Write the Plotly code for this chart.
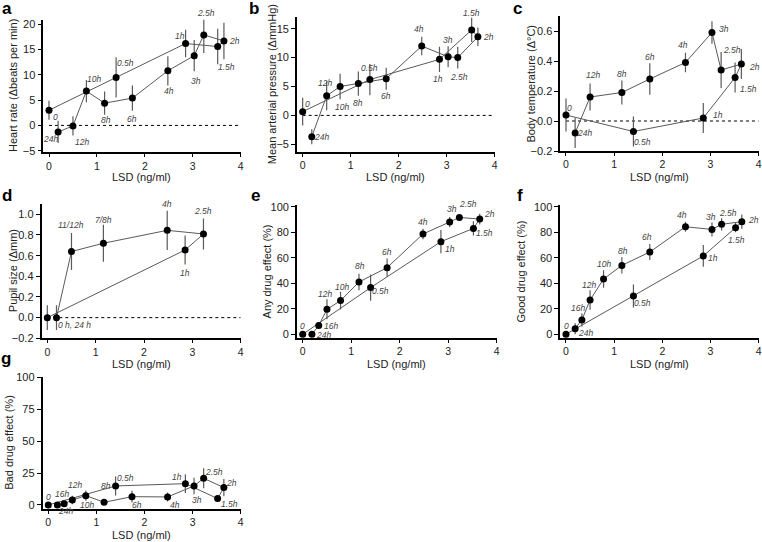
import plotly.graph_objects as go

W, H = 762, 542

# ---------------- DATA ----------------
times13 = ["0", "0.5h", "1h", "1.5h", "2h", "2.5h", "3h", "4h", "6h", "8h", "10h", "12h", "24h"]
lsd13 = [0, 1.40, 2.85, 3.52, 3.65, 3.23, 3.03, 2.48, 1.74, 1.16, 0.78, 0.50, 0.19]

heart_rate = [3.0, 9.5, 16.2, 15.6, 16.7, 17.9, 13.8, 10.8, 5.4, 4.4, 6.8, -0.1, -1.3]
heart_rate_err = [1.9, 4.0, 2.7, 3.5, 3.6, 3.6, 3.1, 2.9, 2.5, 2.3, 2.2, 1.9, 2.2]

map_vals = [0.65, 6.2, 9.7, 14.8, 13.6, 10.0, 10.15, 12.0, 6.35, 5.5, 5.0, 3.4, -3.7]
map_err = [2.4, 2.7, 2.2, 2.1, 1.6, 1.9, 1.8, 1.6, 1.9, 2.1, 2.2, 2.5, 1.3]

times_c = ["0", "0.5h", "1h", "1.5h", "2h", "2.5h", "3h", "4h", "6h", "8h", "12h", "24h"]
lsd_c = [0, 1.40, 2.85, 3.51, 3.64, 3.22, 3.03, 2.48, 1.74, 1.16, 0.50, 0.19]
temp_vals = [0.04, -0.07, 0.02, 0.29, 0.38, 0.34, 0.59, 0.39, 0.28, 0.19, 0.16, -0.08]
temp_err = [0.11, 0.10, 0.10, 0.10, 0.10, 0.12, 0.075, 0.065, 0.105, 0.08, 0.09, 0.10]

times_d = ["", "1h", "2.5h", "4h", "7/8h", "11/12h", "0 h, 24 h"]
lsd_d = [0, 2.85, 3.23, 2.48, 1.16, 0.50, 0.19]
pupil_vals = [0.0, 0.655, 0.81, 0.845, 0.72, 0.64, 0.0]
pupil_err = [0.12, 0.14, 0.15, 0.19, 0.18, 0.18, 0.12]

times14 = ["0", "0.5h", "1h", "1.5h", "2h", "2.5h", "3h", "4h", "6h", "8h", "10h", "12h", "16h", "24h"]
lsd14 = [0, 1.40, 2.85, 3.52, 3.65, 3.23, 3.03, 2.48, 1.74, 1.16, 0.78, 0.50, 0.33, 0.19]

any_vals = [0, 36.6, 72.6, 83.0, 90.3, 91.6, 88.0, 78.6, 52.2, 41.0, 26.4, 19.6, 6.8, 0]
any_err = [0, 10.3, 9.1, 5.6, 4.2, 2.0, 3.9, 4.2, 7.2, 6.5, 6.9, 7.8, 2.0, 0]

good_vals = [0, 30.0, 61.4, 83.6, 88.3, 86.2, 82.2, 84.3, 64.5, 54.0, 43.3, 26.9, 11.2, 4.4]
good_err = [0, 9.1, 8.5, 3.7, 5.5, 4.8, 5.5, 3.9, 6.3, 6.3, 6.8, 7.6, 5.2, 4.3]

bad_vals = [0, 14.9, 16.7, 5.0, 13.6, 20.9, 14.9, 6.3, 6.5, 2.1, 7.3, 3.9, 1.0, 0]
bad_err = [0, 7.4, 7.4, 2.2, 6.8, 7.8, 6.5, 3.5, 4.6, 1.0, 4.0, 3.3, 1.0, 0]

# ---------------- STYLE / LAYOUT ----------------
# label offsets (dx px, dy px up)
off_a = {"0": (6, -7), "0.5h": (9, 14), "1h": (-6, 8), "1.5h": (9, -20), "2h": (11, 0),
         "2.5h": (2, 22), "3h": (2, -25), "4h": (1, -20), "6h": (0, -21), "8h": (1, -17),
         "10h": (8, 12), "12h": (9, -16), "24h": (-8, -7)}
off_b = {"0": (5, 8), "24h": (10, 0), "12h": (-2, 13), "10h": (2, -20), "8h": (0, -19),
         "0.5h": (0, 12), "6h": (0, -17), "4h": (-3, 17), "1h": (-1, -20), "3h": (0, 17),
         "2.5h": (1, -19), "1.5h": (0, 17), "2h": (11, 0)}
off_c = {"0": (4, 7), "24h": (9, 0), "12h": (3, 22), "8h": (0, 19), "6h": (0, 22),
         "4h": (-2, 18), "3h": (12, 4), "2.5h": (11, 20), "2h": (13, -3), "1.5h": (13, -11),
         "1h": (15, 3), "0.5h": (9, -10)}
off_d = {"1h": (0, -23), "2.5h": (0, 23), "4h": (0, 26), "7/8h": (0, 23), "11/12h": (0, 27),
         "0 h, 24 h": (18, -7)}
off_e = {"0": (0, 8), "24h": (12, -1), "16h": (12, 0), "12h": (-2, 15), "10h": (1, 14),
         "8h": (1, 16), "6h": (0, 16), "4h": (0, 12), "3h": (2, 13), "2.5h": (9, 13),
         "2h": (10, 5), "1.5h": (11, -5), "1h": (9, -7), "0.5h": (10, -3)}
off_f = {"0": (1, 8), "24h": (10, -4), "16h": (-4, 12), "12h": (-1, 15), "10h": (0, 15),
         "8h": (1, 14), "6h": (-3, 15), "4h": (-3, 12), "3h": (-1, 12), "2.5h": (6, 11),
         "2h": (12, 2), "1.5h": (1, -12), "1h": (10, -2), "0.5h": (9, -7)}
off_g = {"0": (0, 8), "24h": (8, -6), "16h": (-2, 10), "12h": (3, 15), "10h": (1, -9),
         "8h": (2, 16), "6h": (5, -8), "4h": (7, -8), "3h": (3, -14), "2.5h": (10, 6),
         "2h": (8, 5), "1.5h": (12, -5), "1h": (-8, 7), "0.5h": (10, 8)}

panels = [
    dict(letter="a", x=lsd13, y=heart_rate, e=heart_rate_err, lab=times13, off=off_a,
         ytitle="Heart rate (\u0394beats per min)", yr=[-5.3, 20.9], tv=[-5, 0, 5, 10, 15, 20], fmt=None,
         box=(43.25, 240.7, 19.75, 152.2), zero=True, lp=(7, 9), ytx=13),
    dict(letter="b", x=lsd13, y=map_vals, e=map_err, lab=times13, off=off_b,
         ytitle="Mean arterial pressure (\u0394mmHg)", yr=[-6.3, 17.1], tv=[-5, 0, 5, 10, 15], fmt=None,
         box=(296.9, 494.7, 16.6, 151.8), zero=True, lp=(254, 9), ytx=272),
    dict(letter="c", x=lsd_c, y=temp_vals, e=temp_err, lab=times_c, off=off_c,
         ytitle="Body temperature (\u0394\u00b0C)", yr=[-0.2, 0.7], tv=[-0.2, 0.0, 0.2, 0.4, 0.6], fmt=".1f",
         box=(560.2, 758.7, 16, 151), zero=True, lp=(517, 9), ytx=531),
    dict(letter="d", x=lsd_d, y=pupil_vals, e=pupil_err, lab=times_d, off=off_d,
         ytitle="Pupil size (\u0394mm)", yr=[-0.2, 1.1], tv=[-0.2, 0.0, 0.2, 0.4, 0.6, 0.8, 1.0], fmt=".1f",
         box=(41.5, 240.7, 204, 338.3), zero=True, lp=(7, 195), ytx=13),
    dict(letter="e", x=lsd14, y=any_vals, e=any_err, lab=times14, off=off_e,
         ytitle="Any drug effect (%)", yr=[-3, 101.5], tv=[0, 20, 40, 60, 80, 100], fmt=None,
         box=(296.9, 496.7, 204.8, 338.1), zero=False, lp=(255, 195), ytx=267),
    dict(letter="f", x=lsd14, y=good_vals, e=good_err, lab=times14, off=off_f,
         ytitle="Good drug effect (%)", yr=[-3, 101.5], tv=[0, 20, 40, 60, 80, 100], fmt=None,
         box=(560.2, 758.7, 204.8, 338.1), zero=False, lp=(520, 195), ytx=521),
    dict(letter="g", x=lsd14, y=bad_vals, e=bad_err, lab=times14, off=off_g,
         ytitle="Bad drug effect (%)", yr=[-3, 100.5], tv=[0, 25, 50, 75, 100], fmt=None,
         box=(42.5, 240.7, 376.7, 508.8), zero=False, lp=(6, 358), ytx=9),
]
xtitle_y = {0: 177, 1: 177, 2: 177, 3: 364, 4: 364, 5: 364, 6: 535}

FONT = "Arial, Liberation Sans, sans-serif"
LINE_C = "#5a5a5a"

fig = go.Figure()
layout = dict(width=W, height=H, margin=dict(l=0, r=0, t=0, b=0, pad=0, autoexpand=False),
              autosize=False, template="none",
              paper_bgcolor="white", plot_bgcolor="white", showlegend=False,
              font=dict(family=FONT, size=11, color="#222"))
annotations = []
shapes = []

for i, p in enumerate(panels):
    n = i + 1
    xa = "xaxis" if n == 1 else f"xaxis{n}"
    ya = "yaxis" if n == 1 else f"yaxis{n}"
    xr = "x" if n == 1 else f"x{n}"
    yr_ = "y" if n == 1 else f"y{n}"
    l, r, t, b = p["box"]
    axis_common = dict(showline=True, linecolor="black", linewidth=1.5, ticks="outside",
                       ticklen=4, tickwidth=1.2, tickcolor="black", showgrid=False,
                       zeroline=False, automargin=False,
                       tickfont=dict(size=11, color="#222", family=FONT))
    layout[xa] = dict(axis_common, domain=[l / W, r / W], anchor=yr_, range=[-0.12, 4],
                      tickvals=[0, 1, 2, 3, 4], ticklen=3,
                      tickfont=dict(size=10.5, color="#222", family=FONT))
    ydict = dict(axis_common, domain=[1 - b / H, 1 - t / H], anchor=xr, range=p["yr"],
                 tickvals=p["tv"])
    if p["fmt"]:
        ydict["tickformat"] = p["fmt"]
    layout[ya] = ydict

    if p["zero"]:
        shapes.append(dict(type="line", xref=xr, yref=yr_, x0=0, x1=4, y0=0, y1=0,
                           line=dict(color="black", width=1, dash="dot"), layer="below"))

    fig.add_trace(go.Scatter(
        x=p["x"], y=p["y"], mode="lines+markers", xaxis=xr, yaxis=yr_,
        line=dict(color=LINE_C, width=1),
        marker=dict(color="black", size=7),
        error_y=dict(type="data", array=p["e"], visible=True, color=LINE_C,
                     thickness=1.2, width=0),
        cliponaxis=False,
    ))

    for xv, yv, lab in zip(p["x"], p["y"], p["lab"]):
        if not lab:
            continue
        dx, dy = p["off"].get(lab, (0, 10))
        annotations.append(dict(x=xv, y=yv, xref=xr, yref=yr_, text=f"<i>{lab}</i>", showarrow=False,
                                xshift=dx, yshift=dy, xanchor="center", yanchor="middle",
                                font=dict(size=8.5, color="#444", family=FONT)))

    annotations.append(dict(x=p["lp"][0] / W, y=1 - p["lp"][1] / H, xref="paper", yref="paper",
                            text=f"<b>{p['letter']}</b>", showarrow=False,
                            xanchor="center", yanchor="middle",
                            font=dict(size=17, color="black", family=FONT)))
    annotations.append(dict(x=p["ytx"] / W, y=1 - ((t + b) / 2) / H, xref="paper", yref="paper",
                            text=p["ytitle"], showarrow=False, textangle=-90,
                            xanchor="center", yanchor="middle",
                            font=dict(size=11, color="#222", family=FONT)))
    annotations.append(dict(x=((l + r) / 2) / W, y=1 - xtitle_y[i] / H, xref="paper", yref="paper",
                            text="LSD (ng/ml)", showarrow=False,
                            xanchor="center", yanchor="middle",
                            font=dict(size=11, color="#222", family=FONT)))

layout["annotations"] = annotations
layout["shapes"] = shapes
fig.update_layout(**layout)
fig.write_html("out.html", config={"displayModeBar": False},
               post_script="document.body.style.margin='0';document.body.style.overflow='hidden';")
